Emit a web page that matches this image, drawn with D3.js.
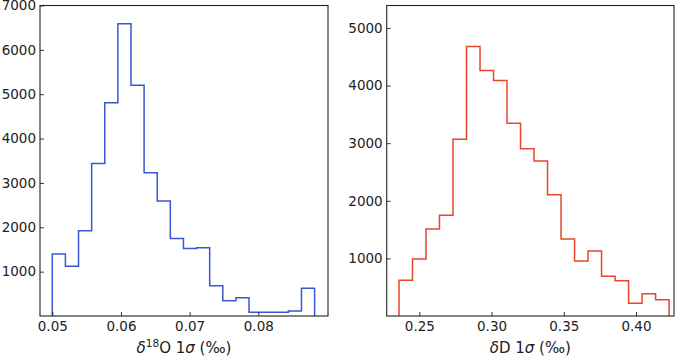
<!DOCTYPE html>
<html>
  <head>
  <title>Sigma histograms</title>
  </head>
  <body>
  <style>
    body, html {
      margin: 0;
      padding: 0;
      background: #fff;
    }
    text {
      font-family: 'DejaVu Sans', sans-serif;
      fill: #222;
    }
  </style>

  <svg id="svg" width="675" height="358"></svg>

  <script src="https://cdn.jsdelivr.net/npm/d3@7"></script>
  <script>
    // d18O 1 sigma histogram: 20 bins between these limits
    const o18Range = [0.05, 0.0882]
    const o18Counts = [1400, 1120, 1920, 3440, 4810, 6590, 5200, 3230, 2590, 1750,
      1520, 1540, 680, 345, 410, 85, 85, 85, 110, 625]
    const o18XTicks = [0.05, 0.06, 0.07, 0.08]
    const o18YTicks = [1000, 2000, 3000, 4000, 5000, 6000, 7000]

    // dD 1 sigma histogram
    const dDRange = [0.2359, 0.4229]
    const dDCounts = [620, 990, 1510, 1750, 3070, 4680, 4260, 4090, 3345, 2905,
      2690, 2105, 1337, 955, 1128, 690, 613, 220, 387, 283]
    const dDXTicks = [0.25, 0.30, 0.35, 0.40]
    const dDYTicks = [1000, 2000, 3000, 4000, 5000]

    const svg = d3.select('#svg')
    const plotTop = 5.5
    const plotBottom = 316

    function drawPanel(opts) {
      const xScale = d3.scaleLinear()
        .domain(opts.xDomain)
        .range([opts.left, opts.right])
      const yScale = d3.scaleLinear()
        .domain(opts.yDomain)
        .range([plotBottom, plotTop])

      // bin edges -> step outline
      const n = opts.counts.length
      const w = (opts.range[1] - opts.range[0]) / n
      const pts = [[opts.range[0], 0]]
      opts.counts.forEach((c, i) => {
        pts.push([opts.range[0] + i * w, c])
        pts.push([opts.range[0] + (i + 1) * w, c])
      })
      pts.push([opts.range[1], 0])

      const linegen = d3.line()
        .x(d => xScale(d[0]))
        .y(d => yScale(d[1]))

      const g = svg.append('g')

      g.append('path')
        .attr('d', linegen(pts))
        .attr('fill', 'none')
        .attr('stroke', opts.color)
        .attr('stroke-width', 1.5)
        .attr('stroke-linejoin', 'miter')

      const bottomAxis = d3.axisBottom(xScale)
        .tickValues(opts.xTicks)
        .tickFormat(opts.xFormat)
        .tickSizeInner(-4)
        .tickSizeOuter(0)
        .tickPadding(5)
      const leftAxis = d3.axisLeft(yScale)
        .tickValues(opts.yTicks)
        .tickFormat(d3.format('d'))
        .tickSizeInner(-4)
        .tickSizeOuter(0)
        .tickPadding(4)

      const xa = g.append('g')
        .attr('transform', `translate(0, ${plotBottom})`)
        .call(bottomAxis)
      const ya = g.append('g')
        .attr('transform', `translate(${opts.left}, 0)`)
        .call(leftAxis)

      ;[xa, ya].forEach(a => {
        a.select('.domain').remove()
        a.selectAll('line').attr('stroke', '#222').attr('stroke-width', 0.9)
        a.selectAll('text')
          .style('font-family', "'DejaVu Sans', sans-serif")
          .style('font-size', '13.5px')
          .attr('fill', '#222')
      })

      // frame
      g.append('rect')
        .attr('x', opts.left)
        .attr('y', plotTop)
        .attr('width', opts.right - opts.left)
        .attr('height', plotBottom - plotTop)
        .attr('fill', 'none')
        .attr('stroke', '#222')
        .attr('stroke-width', 1.1)

      // x label
      const lab = g.append('text')
        .attr('x', (opts.left + opts.right) / 2)
        .attr('y', 353)
        .attr('text-anchor', 'middle')
        .style('font-size', '15px')
      opts.label.forEach(p => {
        const t = lab.append('tspan').text(p.t)
        if (p.i) t.style('font-style', 'italic')
        if (p.sup) t.attr('dy', -6).style('font-size', '10.5px')
        if (p.down) t.attr('dy', 6)
      })
    }

    drawPanel({
      left: 40, right: 328,
      xDomain: [0.04821, 0.09015],
      yDomain: [0, 7000],
      range: o18Range,
      counts: o18Counts,
      xTicks: o18XTicks,
      yTicks: o18YTicks,
      xFormat: d3.format('.2f'),
      color: '#3a56d4',
      label: [
        { t: 'δ', i: true },
        { t: '18', sup: true },
        { t: 'O 1', down: true },
        { t: 'σ', i: true },
        { t: ' (‰)' }
      ]
    })

    drawPanel({
      left: 386.7, right: 674,
      xDomain: [0.2274, 0.4263],
      yDomain: [0, 5390],
      range: dDRange,
      counts: dDCounts,
      xTicks: dDXTicks,
      yTicks: dDYTicks,
      xFormat: d3.format('.2f'),
      color: '#e8462b',
      label: [
        { t: 'δ', i: true },
        { t: 'D 1' },
        { t: 'σ', i: true },
        { t: ' (‰)' }
      ]
    })
  </script>
  </body>
</html>
